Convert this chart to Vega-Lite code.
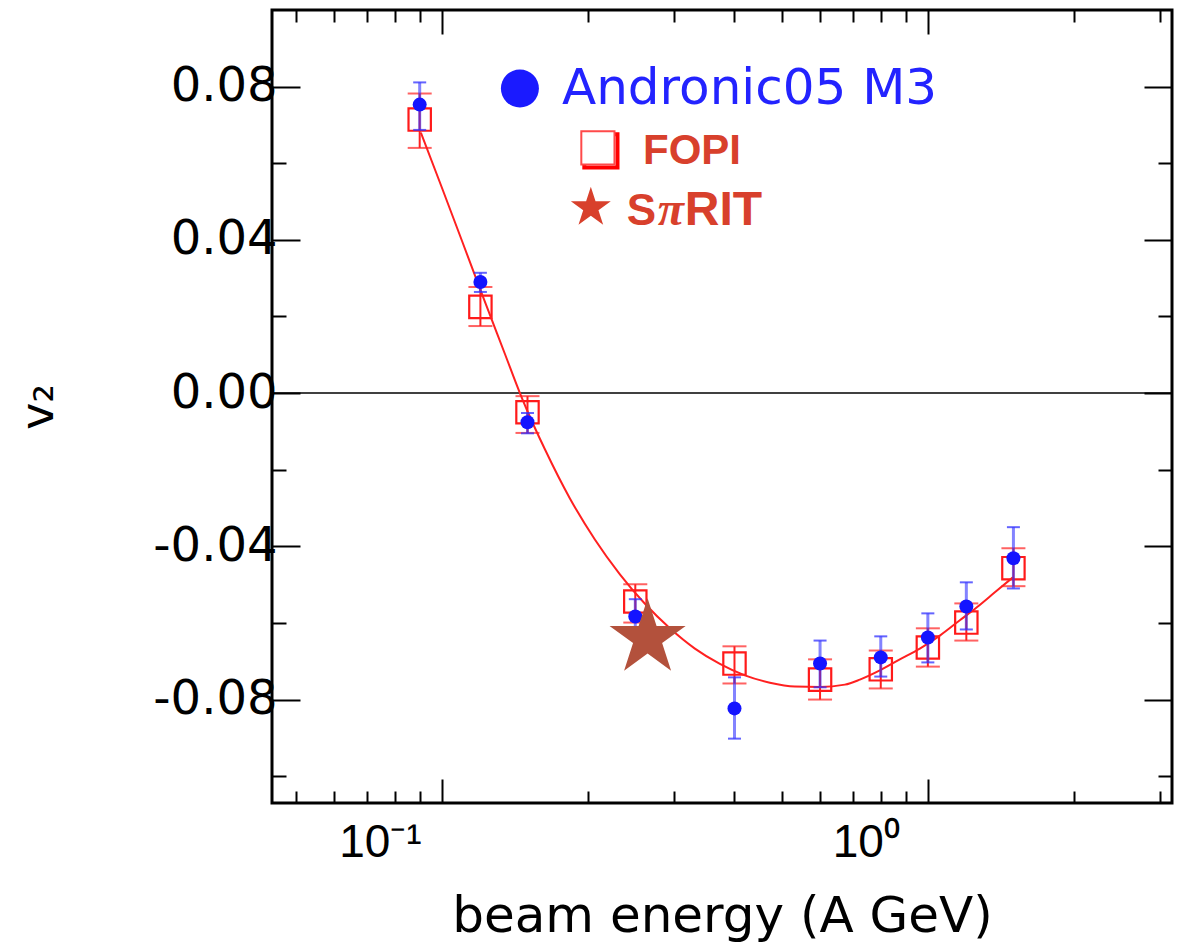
{
  "$schema": "https://vega.github.io/schema/vega-lite/v6.json",
  "width": 900,
  "height": 793,
  "autosize": "none",
  "padding": {"left": 272, "top": 10, "right": 12, "bottom": 143},
  "background": "white",
  "config": {
    "view": {"stroke": "black", "strokeWidth": 3},
    "axis": {"domain": false, "grid": false, "tickColor": "black", "tickWidth": 2, "labelColor": "black", "titleColor": "black"}
  },
  "datasets": {
    "fopi": [
      {"energy": 0.09, "v2": 0.0714, "lo": 0.064, "hi": 0.0782},
      {"energy": 0.12, "v2": 0.0225, "lo": 0.0175, "hi": 0.0277},
      {"energy": 0.15, "v2": -0.005, "lo": -0.0104, "hi": -0.0008},
      {"energy": 0.25, "v2": -0.0544, "lo": -0.0599, "hi": -0.0499},
      {"energy": 0.4, "v2": -0.0706, "lo": -0.0758, "hi": -0.0661},
      {"energy": 0.6, "v2": -0.0748, "lo": -0.08, "hi": -0.0695},
      {"energy": 0.8, "v2": -0.0721, "lo": -0.0771, "hi": -0.0672},
      {"energy": 1.0, "v2": -0.0664, "lo": -0.0714, "hi": -0.0614},
      {"energy": 1.2, "v2": -0.0599, "lo": -0.0646, "hi": -0.0549},
      {"energy": 1.5, "v2": -0.0457, "lo": -0.0504, "hi": -0.0405}
    ],
    "andronic": [
      {"energy": 0.09, "v2": 0.0753, "lo": 0.0687, "hi": 0.0811},
      {"energy": 0.12, "v2": 0.029, "lo": 0.0264, "hi": 0.0314},
      {"energy": 0.15, "v2": -0.0076, "lo": -0.0105, "hi": -0.0052},
      {"energy": 0.25, "v2": -0.0583, "lo": -0.062, "hi": -0.0538},
      {"energy": 0.4, "v2": -0.0823, "lo": -0.0902, "hi": -0.0742},
      {"energy": 0.6, "v2": -0.0706, "lo": -0.0768, "hi": -0.0646},
      {"energy": 0.8, "v2": -0.069, "lo": -0.074, "hi": -0.0635},
      {"energy": 1.0, "v2": -0.0638, "lo": -0.0703, "hi": -0.0575},
      {"energy": 1.2, "v2": -0.0557, "lo": -0.0617, "hi": -0.0494},
      {"energy": 1.5, "v2": -0.0431, "lo": -0.051, "hi": -0.035}
    ],
    "fit": [
      {"energy": 0.0905, "v2": 0.068},
      {"energy": 0.1, "v2": 0.0536},
      {"energy": 0.11, "v2": 0.0397},
      {"energy": 0.1202, "v2": 0.0267},
      {"energy": 0.1348, "v2": 0.0102},
      {"energy": 0.1447, "v2": 0.0},
      {"energy": 0.1503, "v2": -0.005},
      {"energy": 0.1628, "v2": -0.0146},
      {"energy": 0.1834, "v2": -0.0275},
      {"energy": 0.2064, "v2": -0.0382},
      {"energy": 0.2324, "v2": -0.0473},
      {"energy": 0.2617, "v2": -0.055},
      {"energy": 0.2945, "v2": -0.0614},
      {"energy": 0.3316, "v2": -0.0667},
      {"energy": 0.3733, "v2": -0.0707},
      {"energy": 0.4202, "v2": -0.0737},
      {"energy": 0.473, "v2": -0.0756},
      {"energy": 0.5326, "v2": -0.0766},
      {"energy": 0.5996, "v2": -0.0767},
      {"energy": 0.675, "v2": -0.0761},
      {"energy": 0.7245, "v2": -0.0748},
      {"energy": 0.7964, "v2": -0.0724},
      {"energy": 0.8757, "v2": -0.0695},
      {"energy": 0.9627, "v2": -0.0667},
      {"energy": 1.0585, "v2": -0.0633},
      {"energy": 1.1636, "v2": -0.0593},
      {"energy": 1.2614, "v2": -0.0559},
      {"energy": 1.3737, "v2": -0.052},
      {"energy": 1.4962, "v2": -0.0481}
    ],
    "spirit": [
      {"energy": 0.265, "v2": -0.064}
    ],
    "legend": [
      {"key": "a", "label": "Andronic05 M3"},
      {"key": "f", "label": "FOPI"},
      {"key": "s1", "label": "S"},
      {"key": "pi", "label": "π"},
      {"key": "s2", "label": "RIT"}
    ]
  },
  "resolve": {"axis": {"x": "independent", "y": "independent"}},
  "layer": [
    {
      "data": {"values": [{"v2": 0}]},
      "mark": {"type": "rule", "color": "black", "strokeWidth": 1.5},
      "encoding": {"y": {"field": "v2", "type": "quantitative", "axis": null}}
    },
    {
      "data": {"name": "fopi"},
      "mark": {"type": "rule", "color": "#ff2020", "strokeWidth": 2},
      "encoding": {
        "x": {
          "field": "energy", "type": "quantitative",
          "scale": {"type": "log", "domain": [0.0447, 3.18], "nice": false},
          "axis": {
            "orient": "bottom",
            "values": [0.05, 0.06, 0.07, 0.08, 0.09, 0.1, 0.2, 0.3, 0.4, 0.5, 0.6, 0.7, 0.8, 0.9, 1, 2, 3],
            "tickSize": {"condition": {"test": "datum.value == 0.1 || datum.value == 1", "value": -24}, "value": -12},
            "tickWidth": 2,
            "labelExpr": "datum.value == 0.1 ? '10⁻¹' : (datum.value == 1 ? '10⁰' : '')",
            "labelFont": "Liberation Sans",
            "labelFontSize": 46,
            "labelOffset": -62,
            "labelPadding": 41,
            "labelOverlap": false,
            "labelFlush": false,
            "title": "beam energy (A GeV)",
            "titleFont": "DejaVu Sans",
            "titleFontSize": 50,
            "titleFontWeight": "normal",
            "titlePadding": 14
          }
        },
        "y": {
          "field": "lo", "type": "quantitative",
          "scale": {"domain": [-0.107, 0.1], "nice": false, "zero": false},
          "axis": {
            "orient": "left",
            "values": [-0.1, -0.08, -0.06, -0.04, -0.02, 0, 0.02, 0.04, 0.06, 0.08],
            "tickSize": {"condition": {"test": "round(datum.value * 100) % 4 == 0", "value": -28}, "value": -14},
            "tickWidth": 2,
            "labelExpr": "round(datum.value * 100) % 4 == 0 ? replace(format(datum.value, '.2f'), '−', '-') : ''",
            "labelFont": "DejaVu Sans",
            "labelFontSize": 48,
            "labelPadding": 23,
            "labelOverlap": false,
            "title": "v₂",
            "titleFont": "DejaVu Sans",
            "titleFontSize": 46,
            "titleFontWeight": "normal",
            "titlePadding": 90
          }
        },
        "y2": {"field": "hi"}
      }
    },
    {
      "data": {"name": "fopi"},
      "mark": {"type": "tick", "orient": "horizontal", "color": "#ff2020", "size": 24, "thickness": 2},
      "encoding": {
        "x": {"field": "energy", "type": "quantitative", "axis": null},
        "y": {"field": "lo", "type": "quantitative", "axis": null}
      }
    },
    {
      "data": {"name": "fopi"},
      "mark": {"type": "tick", "orient": "horizontal", "color": "#ff2020", "size": 24, "thickness": 2},
      "encoding": {
        "x": {"field": "energy", "type": "quantitative", "axis": null},
        "y": {"field": "hi", "type": "quantitative", "axis": null}
      }
    },
    {
      "data": {"name": "fopi"},
      "mark": {"type": "point", "shape": "square", "filled": false, "color": "#ff1a1a", "strokeWidth": 2.2, "size": 500, "opacity": 1},
      "encoding": {
        "x": {
          "field": "energy", "type": "quantitative",
          "axis": {
            "orient": "top",
            "values": [0.05, 0.06, 0.07, 0.08, 0.09, 0.1, 0.2, 0.3, 0.4, 0.5, 0.6, 0.7, 0.8, 0.9, 1, 2, 3],
            "tickSize": {"condition": {"test": "datum.value == 0.1 || datum.value == 1", "value": -24}, "value": -12},
            "tickWidth": 2,
            "labels": false,
            "title": null
          }
        },
        "y": {
          "field": "v2", "type": "quantitative",
          "axis": {
            "orient": "right",
            "values": [-0.1, -0.08, -0.06, -0.04, -0.02, 0, 0.02, 0.04, 0.06, 0.08],
            "tickSize": {"condition": {"test": "round(datum.value * 100) % 4 == 0", "value": -28}, "value": -14},
            "tickWidth": 2,
            "labels": false,
            "title": null
          }
        }
      }
    },
    {
      "data": {"name": "fit"},
      "mark": {"type": "line", "color": "#ff2020", "strokeWidth": 2, "interpolate": "monotone"},
      "encoding": {
        "x": {"field": "energy", "type": "quantitative", "axis": null},
        "y": {"field": "v2", "type": "quantitative", "axis": null}
      }
    },
    {
      "data": {"name": "andronic"},
      "mark": {"type": "rule", "color": "#3030ff", "opacity": 0.6, "strokeWidth": 3},
      "encoding": {
        "x": {"field": "energy", "type": "quantitative", "axis": null},
        "y": {"field": "lo", "type": "quantitative", "axis": null},
        "y2": {"field": "hi"}
      }
    },
    {
      "data": {"name": "andronic"},
      "mark": {"type": "tick", "orient": "horizontal", "color": "#3030ff", "opacity": 0.75, "size": 13, "thickness": 2},
      "encoding": {
        "x": {"field": "energy", "type": "quantitative", "axis": null},
        "y": {"field": "lo", "type": "quantitative", "axis": null}
      }
    },
    {
      "data": {"name": "andronic"},
      "mark": {"type": "tick", "orient": "horizontal", "color": "#3030ff", "opacity": 0.75, "size": 13, "thickness": 2},
      "encoding": {
        "x": {"field": "energy", "type": "quantitative", "axis": null},
        "y": {"field": "hi", "type": "quantitative", "axis": null}
      }
    },
    {
      "data": {"name": "andronic"},
      "mark": {"type": "point", "shape": "circle", "filled": true, "color": "#1414ff", "size": 196, "opacity": 1},
      "encoding": {
        "x": {"field": "energy", "type": "quantitative", "axis": null},
        "y": {"field": "v2", "type": "quantitative", "axis": null}
      }
    },
    {
      "data": {"name": "spirit"},
      "mark": {
        "type": "point",
        "shape": "M0,-1L0.2245,-0.309L0.9511,-0.309L0.3633,0.118L0.5878,0.809L0,0.382L-0.5878,0.809L-0.3633,0.118L-0.9511,-0.309L-0.2245,-0.309Z",
        "filled": true, "color": "#b3513c", "size": 6400, "opacity": 1
      },
      "encoding": {
        "x": {"field": "energy", "type": "quantitative", "axis": null},
        "y": {"field": "v2", "type": "quantitative", "axis": null}
      }
    },
    {
      "data": {"name": "legend"},
      "transform": [{"filter": "datum.key == 'a'"}],
      "mark": {"type": "point", "shape": "circle", "filled": true, "color": "#1a1aff", "size": 1444, "opacity": 1},
      "encoding": {
        "x": {"datum": 0.1447, "type": "quantitative", "axis": null},
        "y": {"datum": 0.0795, "type": "quantitative", "axis": null}
      }
    },
    {
      "data": {"name": "legend"},
      "transform": [{"filter": "datum.key == 'a'"}],
      "mark": {"type": "text", "align": "left", "baseline": "alphabetic", "font": "DejaVu Sans", "fontSize": 50, "color": "#2323ff"},
      "encoding": {
        "x": {"datum": 0.1766, "type": "quantitative", "axis": null},
        "y": {"datum": 0.0755, "type": "quantitative", "axis": null},
        "text": {"field": "label"}
      }
    },
    {
      "data": {"name": "legend"},
      "transform": [{"filter": "datum.key == 'f'"}],
      "mark": {"type": "point", "shape": "square", "filled": false, "color": "#ff0000", "strokeWidth": 4, "size": 1100, "xOffset": 3, "yOffset": 3, "opacity": 1},
      "encoding": {
        "x": {"datum": 0.2094, "type": "quantitative", "axis": null},
        "y": {"datum": 0.064, "type": "quantitative", "axis": null}
      }
    },
    {
      "data": {"name": "legend"},
      "transform": [{"filter": "datum.key == 'f'"}],
      "mark": {"type": "point", "shape": "square", "filled": false, "fill": "white", "fillOpacity": 1, "stroke": "#ff4a4a", "strokeWidth": 2, "size": 1100, "opacity": 1},
      "encoding": {
        "x": {"datum": 0.2094, "type": "quantitative", "axis": null},
        "y": {"datum": 0.064, "type": "quantitative", "axis": null}
      }
    },
    {
      "data": {"name": "legend"},
      "transform": [{"filter": "datum.key == 'f'"}],
      "mark": {"type": "text", "align": "left", "baseline": "alphabetic", "font": "Liberation Sans", "fontWeight": "bold", "fontSize": 42, "color": "#d8402c"},
      "encoding": {
        "x": {"datum": 0.2593, "type": "quantitative", "axis": null},
        "y": {"datum": 0.0599, "type": "quantitative", "axis": null},
        "text": {"field": "label"}
      }
    },
    {
      "data": {"name": "legend"},
      "transform": [{"filter": "datum.key == 's1'"}],
      "mark": {
        "type": "point",
        "shape": "M0,-1L0.2245,-0.309L0.9511,-0.309L0.3633,0.118L0.5878,0.809L0,0.382L-0.5878,0.809L-0.3633,0.118L-0.9511,-0.309L-0.2245,-0.309Z",
        "filled": true, "color": "#d8402c", "size": 1764, "opacity": 1
      },
      "encoding": {
        "x": {"datum": 0.2025, "type": "quantitative", "axis": null},
        "y": {"datum": 0.0484, "type": "quantitative", "axis": null}
      }
    },
    {
      "data": {"name": "legend"},
      "transform": [{"filter": "datum.key == 's1'"}],
      "mark": {"type": "text", "align": "left", "baseline": "alphabetic", "font": "Liberation Sans", "fontWeight": "bold", "fontSize": 44, "color": "#d8402c"},
      "encoding": {
        "x": {"datum": 0.2402, "type": "quantitative", "axis": null},
        "y": {"datum": 0.0439, "type": "quantitative", "axis": null},
        "text": {"field": "label"}
      }
    },
    {
      "data": {"name": "legend"},
      "transform": [{"filter": "datum.key == 'pi'"}],
      "mark": {"type": "text", "align": "left", "baseline": "alphabetic", "dx": 31, "font": "Liberation Serif", "fontStyle": "italic", "fontWeight": "bold", "fontSize": 48, "color": "#d8402c"},
      "encoding": {
        "x": {"datum": 0.2402, "type": "quantitative", "axis": null},
        "y": {"datum": 0.0439, "type": "quantitative", "axis": null},
        "text": {"field": "label"}
      }
    },
    {
      "data": {"name": "legend"},
      "transform": [{"filter": "datum.key == 's2'"}],
      "mark": {"type": "text", "align": "left", "baseline": "alphabetic", "dx": 58, "font": "Liberation Sans", "fontWeight": "bold", "fontSize": 48, "color": "#d8402c"},
      "encoding": {
        "x": {"datum": 0.2402, "type": "quantitative", "axis": null},
        "y": {"datum": 0.0439, "type": "quantitative", "axis": null},
        "text": {"field": "label"}
      }
    }
  ]
}
